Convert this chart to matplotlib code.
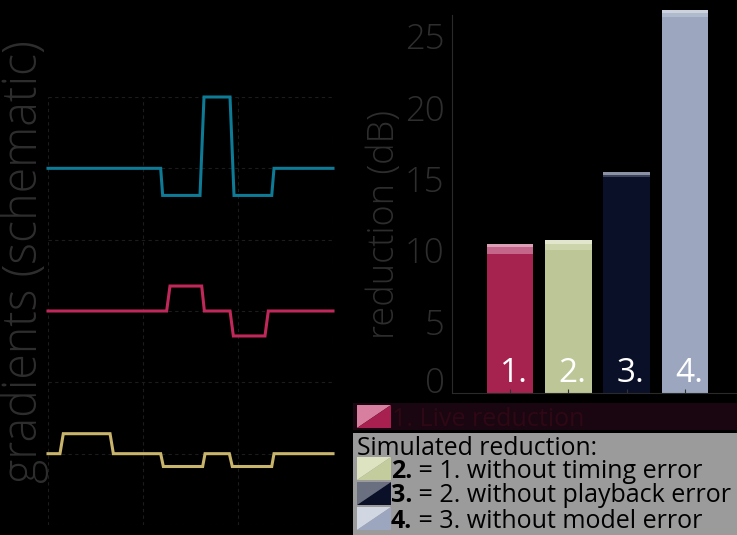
import matplotlib.pyplot as plt
from matplotlib.patches import Rectangle, Polygon

plt.rcParams['font.family'] = ['Open Sans', 'DejaVu Sans']

# schematic gradient waveforms (time, amplitude), stacked with offsets
cyan_x = [0, 1.186, 1.207, 1.600, 1.642, 1.916, 1.958, 2.355, 2.379, 3]
cyan_y = [2, 2, 1.62, 1.62, 3.0, 3.0, 1.62, 1.62, 2, 2]
red_x = [0, 1.249, 1.284, 1.618, 1.646, 1.916, 1.951, 2.284, 2.319, 3]
red_y = [0, 0, 0.35, 0.35, 0, 0, -0.35, -0.35, 0, 0]
yellow_x = [0, 0.126, 0.161, 0.653, 0.688, 1.186, 1.214, 1.628, 1.653,
            1.909, 1.940, 2.355, 2.379, 3]
yellow_y = [-2, -2, -1.72, -1.72, -2, -2, -2.18, -2.18, -2, -2,
            -2.18, -2.18, -2, -2]

# reduction in dB: solid value plus two upper range levels
bar_labels = ['1.', '2.', '3.', '4.']
red_main = [9.75, 10.0, 15.1, 26.3]
red_mid = [10.2, 10.4, 15.3, 26.6]
red_top = [10.45, 10.7, 15.5, 26.8]

main_cols = ['#a6234f', '#bcc696', '#0b1029', '#9ca7bf']
mid_cols = ['#c4658a', '#ccd4ab', '#3a4158', '#b0bacd']
top_cols = ['#dba0b5', '#e2e6cc', '#8a92a4', '#cdd3de']

legend_sim = ['= 1. without timing error',
              '= 2. without playback error',
              '= 3. without model error']

W, H = 737, 535
fig = plt.figure(figsize=(W / 100, H / 100), dpi=100, facecolor='black')

# left panel: gradients
ax1 = fig.add_axes([48 / W, 10 / H, 285 / W, 428 / H], facecolor='black')
for xs, ys, c in [(cyan_x, cyan_y, '#0d7a96'),
                  (red_x, red_y, '#c0285a'),
                  (yellow_x, yellow_y, '#c9b46c')]:
    ax1.plot(xs, ys, color=c, lw=2.2, clip_on=False, solid_joinstyle='miter')
ax1.set_xlim(0, 3)
ax1.set_ylim(-3, 3)
ax1.set_xticks([0, 1, 2, 3])
ax1.set_yticks(range(-3, 4))
ax1.tick_params(length=0, labelbottom=False, labelleft=False)
ax1.grid(True, color='#1c1c1c', lw=0.8, ls=(0, (3, 3)))
for s in ax1.spines.values():
    s.set_visible(False)
fig.text(25 / W, 1 - 262 / H, 'gradients (schematic)', rotation=90,
         ha='center', va='center', fontsize=33.5, color='#2e2e2e',
         fontweight='light')

# right panel: reduction bars
ax2 = fig.add_axes([451.7 / W, (H - 393) / H, 291.6 / W, 382.7 / H],
                   facecolor='black')
xs = range(len(bar_labels))
ax2.bar(xs, red_top, width=0.8, color=top_cols, clip_on=False)
ax2.bar(xs, red_mid, width=0.8, color=mid_cols, clip_on=False)
ax2.bar(xs, red_main, width=0.8, color=main_cols, clip_on=False)
for i, lab in enumerate(bar_labels):
    ax2.text(i + 0.07, 0.75, lab, ha='center', va='baseline',
             fontsize=24, color='white')
ax2.set_xlim(-1, 4)
ax2.set_ylim(0, 26.8)
ax2.set_xticks(list(xs))
ax2.set_yticks([0, 5, 10, 15, 20, 25])
ax2.tick_params(axis='x', direction='in', length=3, color='#333333',
                labelbottom=False)
ax2.tick_params(axis='y', length=0, pad=5, labelsize=25,
                labelcolor='#2e2e2e')
for lab in ax2.get_yticklabels():
    lab.set_fontweight('light')
# keep the zero label sitting on the axis line
ax2.yaxis.get_major_ticks()[0].label1.set_va('baseline')
for s in ['top', 'right']:
    ax2.spines[s].set_visible(False)
for s in ['left', 'bottom']:
    ax2.spines[s].set_color('#2a2a2a')
ax2.spines['left'].set_bounds(0, 26.45)
fig.text(385 / W, 1 - 225 / H, 'reduction (dB)', rotation=90,
         ha='center', va='center', fontsize=26, color='#2e2e2e',
         fontweight='light')

# legend drawn in pixel coordinates, on top of the axes
lg = fig.add_axes([0, 0, 1, 1], facecolor='none')
lg.set_xlim(0, W)
lg.set_ylim(H, 0)
lg.axis('off')


def split_patch(x, y, light, dark):
    w, h = 34, 23
    lg.add_patch(Polygon([(x, y + h), (x, y), (x + w, y)], closed=True,
                         color=light, lw=0))
    lg.add_patch(Polygon([(x, y + h), (x + w, y), (x + w, y + h)],
                         closed=True, color=dark, lw=0))


lg.add_patch(Rectangle((353, 403), W - 353, 27, color='#1a0610', lw=0))
split_patch(357, 405, '#d87fa0', '#a8204f')
lg.text(392, 426, '1. Live reduction', fontsize=18, color='#2e0814',
        va='baseline')

lg.add_patch(Rectangle((353, 433), W - 353, H - 433, color='#9b9b9b', lw=0))
lg.text(357, 455, 'Simulated reduction:', fontsize=17.8, color='black',
        va='baseline')
sim_light = ['#dde3c0', '#6a7080', '#d0d6e2']
sim_dark = ['#c3cc9c', '#0b1029', '#9ca7bf']
for k, txt in enumerate(legend_sim):
    y0 = 457 + 25 * k
    split_patch(357, y0, sim_light[k], sim_dark[k])
    t = lg.text(391, y0 + 20.5, f'{k + 2}.', fontsize=18, fontweight='bold',
                color='black', va='baseline')
    lg.annotate(' ' + txt, xycoords=t, xy=(1, 0), va='bottom',
                fontsize=18, color='black')

fig.savefig('out.png', dpi=100, facecolor='black')
